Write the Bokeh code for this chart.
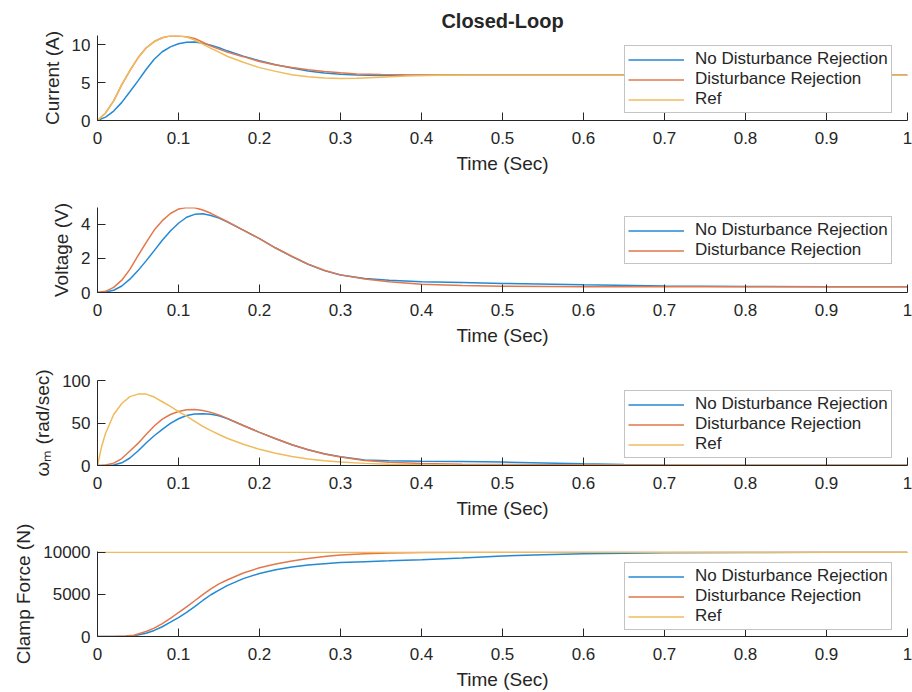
from bokeh.plotting import figure
from bokeh.layouts import column
from bokeh.models import Range1d, FixedTicker, Legend, LegendItem
from bokeh.embed import file_html
from bokeh.resources import INLINE

# ---- data -------------------------------------------------------------
X_TICKS = [0, 0.1, 0.2, 0.3, 0.4, 0.5, 0.6, 0.7, 0.8, 0.9, 1.0]
X_TICK_LABELS = ["0", "0.1", "0.2", "0.3", "0.4", "0.5", "0.6", "0.7", "0.8", "0.9", "1"]

SERIES_NAMES = ["No Disturbance Rejection", "Disturbance Rejection", "Ref"]

# Current (A)
t_cur = [0, 0.01, 0.02, 0.03, 0.04, 0.05, 0.06, 0.07, 0.08, 0.09, 0.10, 0.11, 0.12,
         0.13, 0.14, 0.15, 0.16, 0.18, 0.20, 0.22, 0.24, 0.26, 0.28, 0.30, 0.32,
         0.35, 0.38, 0.42, 0.46, 0.50, 0.60, 0.70, 0.80, 0.90, 1.00]
cur_no_dr = [0, 0.45, 1.25, 2.4, 3.8, 5.25, 6.75, 8.1, 9.1, 9.75, 10.15, 10.37, 10.4,
             10.22, 9.95, 9.62, 9.22, 8.52, 7.9, 7.38, 6.94, 6.56, 6.28, 6.12, 6.03,
             5.97, 5.98, 6.0, 6.0, 6.0, 6.0, 6.0, 6.0, 6.0, 6.0]
cur_dr = [0, 1.0, 2.6, 4.75, 6.6, 8.3, 9.6, 10.45, 10.95, 11.2, 11.2, 11.1, 10.85,
          10.35, 9.85, 9.45, 9.05, 8.45, 7.8, 7.35, 7.0, 6.72, 6.5, 6.32, 6.17,
          6.08, 6.04, 6.02, 6.0, 6.0, 6.0, 6.0, 6.0, 6.0, 6.0]
cur_ref = [0, 1.0, 2.6, 4.75, 6.6, 8.3, 9.6, 10.45, 10.95, 11.22, 11.2, 11.05, 10.65,
           10.1, 9.55, 9.05, 8.5, 7.7, 7.0, 6.5, 6.05, 5.78, 5.62, 5.56, 5.58,
           5.72, 5.88, 5.98, 6.0, 6.0, 6.0, 6.0, 6.0, 6.0, 6.0]

# Voltage (V)
t_volt = [0, 0.01, 0.02, 0.03, 0.04, 0.05, 0.06, 0.07, 0.08, 0.09, 0.10, 0.11, 0.12,
          0.13, 0.14, 0.15, 0.16, 0.18, 0.20, 0.22, 0.24, 0.26, 0.28, 0.30, 0.33,
          0.36, 0.40, 0.45, 0.50, 0.60, 0.70, 0.80, 0.90, 1.00]
volt_no_dr = [0, 0.03, 0.13, 0.38, 0.78, 1.28, 1.85, 2.45, 3.05, 3.6, 4.05, 4.4, 4.57,
              4.6, 4.5, 4.35, 4.13, 3.65, 3.15, 2.6, 2.1, 1.65, 1.28, 1.02, 0.82,
              0.71, 0.63, 0.58, 0.53, 0.45, 0.38, 0.35, 0.34, 0.33]
volt_dr = [0, 0.07, 0.3, 0.72, 1.35, 2.15, 2.92, 3.65, 4.2, 4.62, 4.88, 4.97, 4.95,
           4.82, 4.63, 4.39, 4.15, 3.65, 3.15, 2.6, 2.12, 1.66, 1.3, 1.03, 0.79,
           0.63, 0.48, 0.41, 0.37, 0.34, 0.33, 0.33, 0.33, 0.33]

# Motor speed (rad/sec)
t_speed = [0, 0.005, 0.01, 0.02, 0.03, 0.04, 0.05, 0.06, 0.07, 0.08, 0.09, 0.10, 0.11,
           0.12, 0.13, 0.14, 0.15, 0.16, 0.18, 0.20, 0.22, 0.24, 0.26, 0.28, 0.30,
           0.33, 0.36, 0.40, 0.45, 0.50, 0.55, 0.60, 0.65, 0.70, 0.80, 0.90, 1.00]
speed_no_dr = [0, 0, 0.05, 0.6, 3.2, 8.8, 17, 26.5, 35, 42.5, 49.5, 55, 58.8,
               60.6, 61, 60.3, 58.5, 55.3, 47, 39, 31.5, 24.5, 18.6, 13.8, 10.3,
               6.5, 5.5, 5.0, 4.6, 4.0, 3.0, 2.0, 1.2, 0.6, 0.3, 0.2, 0.2]
speed_dr = [0, 0.1, 0.6, 2.8, 8.2, 17, 26, 36.5, 46.5, 54.5, 60, 63.5, 65.5,
            65.8, 64.8, 62.5, 59.5, 55.5, 47, 39, 31.5, 24.5, 18.5, 13.5, 10,
            5.8, 3.8, 2.3, 1.6, 1.2, 1.0, 0.8, 0.6, 0.5, 0.4, 0.4, 0.4]
speed_ref = [0, 22, 38, 60, 73, 81, 84, 84, 80.5, 75, 69.5, 63.5, 58,
             52, 46, 41, 36.5, 32, 25, 19, 14.5, 10.5, 7.6, 5.6, 4.0,
             2.5, 1.5, 0.8, 0.4, 0.2, 0.1, 0.1, 0.05, 0, 0, 0, 0]

# Clamp force (N)
t_force = [0, 0.02, 0.035, 0.045, 0.06, 0.07, 0.08, 0.09, 0.10, 0.11, 0.12, 0.13, 0.14,
           0.15, 0.16, 0.18, 0.20, 0.22, 0.24, 0.26, 0.28, 0.30, 0.33, 0.36, 0.40,
           0.45, 0.50, 0.55, 0.60, 0.70, 0.80, 0.90, 1.00]
force_no_dr = [0, 5, 30, 90, 390, 720, 1160, 1700, 2250, 2860, 3560, 4280, 4960,
               5520, 6050, 6880, 7490, 7920, 8260, 8490, 8650, 8780, 8895, 8990, 9130,
               9330, 9560, 9720, 9840, 9950, 9990, 10000, 10000]
force_dr = [0, 10, 50, 140, 590, 1000, 1530, 2150, 2850, 3530, 4250, 4980, 5660,
            6250, 6710, 7550, 8160, 8620, 8980, 9260, 9500, 9690, 9840, 9930, 9990,
            10000, 10000, 10000, 10000, 10000, 10000, 10000, 10000]
force_ref = [10000] * len(t_force)

# ---- style ------------------------------------------------------------
FONT = "Liberation Sans"
INK = "#262626"
COLORS = ["#2489d4", "#e2774b", "#efbb5c"]
LINE_W = 1.5


def make_panel(t, curves, y_end, y_ticks, y_label, legend_y, top, bottom, title=None):
    p = figure(frame_width=810, frame_height=85,
               x_range=Range1d(0, 1), y_range=Range1d(0, y_end),
               min_border_left=97, min_border_right=5,
               min_border_top=top, min_border_bottom=bottom,
               output_backend="svg", toolbar_location=None, title=title)
    p.outline_line_color = None
    p.xgrid.visible = False
    p.ygrid.visible = False
    p.background_fill_color = "white"
    p.border_fill_color = "white"

    if title is not None:
        p.title.align = "center"
        p.title.text_font = FONT
        p.title.text_font_size = "20px"
        p.title.text_font_style = "bold"
        p.title.text_color = INK
        p.title.standoff = 8

    p.xaxis.ticker = FixedTicker(ticks=X_TICKS)
    p.xaxis.major_label_overrides = dict(zip(X_TICKS, X_TICK_LABELS))
    p.xaxis.axis_label = "Time (Sec)"
    p.yaxis.ticker = FixedTicker(ticks=y_ticks)
    p.yaxis.axis_label = y_label

    for ax in (p.xaxis[0], p.yaxis[0]):
        ax.axis_line_color = INK
        ax.axis_line_width = 1
        ax.major_tick_line_color = INK
        ax.major_tick_in = 8
        ax.major_tick_out = 0
        ax.minor_tick_line_color = None
        ax.major_label_text_font = FONT
        ax.major_label_text_font_size = "17px"
        ax.major_label_text_color = INK
        ax.axis_label_text_font = FONT
        ax.axis_label_text_font_size = "19px"
        ax.axis_label_text_font_style = "normal"
        ax.axis_label_text_color = INK
        ax.axis_label_standoff = 6
    p.xaxis.major_label_standoff = 11
    p.yaxis.major_label_standoff = 7

    items = []
    for (name, ys), color in zip(curves, COLORS):
        r = p.line(t, ys, line_color=color, line_width=LINE_W)
        items.append(LegendItem(label=name, renderers=[r]))

    leg = Legend(items=items, location=(527, legend_y))
    leg.label_text_font = FONT
    leg.label_text_font_size = "17px"
    leg.label_text_color = INK
    leg.border_line_color = "#8a8a8a"
    leg.border_line_width = 1
    leg.background_fill_color = "white"
    leg.background_fill_alpha = 1
    leg.glyph_width = 56
    leg.glyph_height = 19
    leg.label_height = 19
    leg.label_standoff = 11
    leg.spacing = 0
    leg.padding = 3
    leg.margin = 0
    p.add_layout(leg)
    return p


p_cur = make_panel(t_cur, list(zip(SERIES_NAMES, [cur_no_dr, cur_dr, cur_ref])),
                   11.25, [0, 5, 10], "Current (A)", 7, 35, 77, title="Closed-Loop")
p_volt = make_panel(t_volt, list(zip(SERIES_NAMES[:2], [volt_no_dr, volt_dr])),
                    4.97, [0, 2, 4], "Voltage (V)", 28, 10, 78)
p_speed = make_panel(t_speed, list(zip(SERIES_NAMES, [speed_no_dr, speed_dr, speed_ref])),
                     100, [0, 50, 100], "ωₘ (rad/sec)", 7, 10, 56)
p_force = make_panel(t_force, list(zip(SERIES_NAMES, [force_no_dr, force_dr, force_ref])),
                     10100, [0, 5000, 10000], "Clamp Force (N)", 6, 30, 56)

layout = column(p_cur, p_volt, p_speed, p_force)
open("out.html", "w").write(file_html(layout, INLINE))
